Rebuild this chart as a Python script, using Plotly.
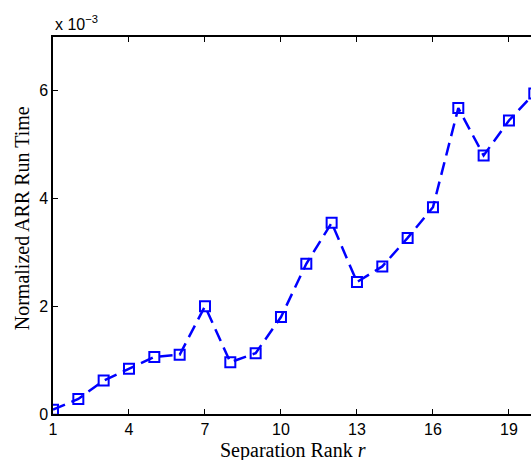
import plotly.graph_objects as go

ranks = list(range(1, 21))
run_time = [0.08e-3, 0.28e-3, 0.62e-3, 0.84e-3, 1.06e-3, 1.10e-3, 2.00e-3, 0.96e-3, 1.13e-3, 1.80e-3,
            2.79e-3, 3.55e-3, 2.45e-3, 2.74e-3, 3.27e-3, 3.84e-3, 5.68e-3, 4.80e-3, 5.45e-3, 5.95e-3]
x_ticks = [1, 4, 7, 10, 13, 16, 19]
y_ticks = [0, 2e-3, 4e-3, 6e-3]
y_tick_text = ["0", "2", "4", "6"]

blue = "#0000FF"
tickfont = dict(family="Liberation Sans, Arial, sans-serif", size=16, color="black")
titlefont = dict(family="Liberation Serif, Times New Roman, serif", size=20, color="black")

fig = go.Figure()
fig.add_trace(go.Scatter(
    x=ranks, y=run_time, mode="lines+markers",
    line=dict(color=blue, width=2.5, dash="13px,7px"),
    marker=dict(symbol="square-open", size=10, color=blue, line=dict(width=2, color=blue)),
    showlegend=False,
))

fig.update_layout(
    width=531, height=460,
    margin=dict(l=53, r=0, t=37, b=46),
    paper_bgcolor="white", plot_bgcolor="white",
    xaxis=dict(range=[1, 19.87], tickvals=x_ticks, ticks="inside", ticklen=5, tickwidth=1,
               tickcolor="black", showline=True, linecolor="black", linewidth=1.5,
               mirror="ticks", showgrid=False, zeroline=False, tickfont=tickfont, title=None),
    yaxis=dict(range=[0, 7e-3], tickvals=y_ticks, ticktext=y_tick_text, ticks="inside", ticklen=5,
               tickwidth=1, tickcolor="black", showline=True, linecolor="black", linewidth=1.5,
               showgrid=False, zeroline=False, tickfont=tickfont, title=None),
    yaxis2=dict(range=[0, 7e-3], tickvals=y_ticks, ticks="inside", ticklen=5, tickwidth=1,
                tickcolor="black", showline=False, showgrid=False, zeroline=False,
                showticklabels=False, overlaying="y", side="right", anchor="x"),
    annotations=[
        dict(text="Separation Rank <i>r</i>", xref="paper", yref="paper", x=(293 - 53) / 478,
             y=-0.061, xanchor="center", yanchor="top", showarrow=False, font=titlefont),
        dict(text="Normalized ARR Run Time", xref="paper", yref="paper", x=-0.065, y=0.519,
             textangle=-90, showarrow=False, font=titlefont, xanchor="center", yanchor="middle"),
        dict(text="x 10<sup>−3</sup>", xref="paper", yref="paper", x=0.0, y=1.0, yshift=2,
             xanchor="left", yanchor="bottom", showarrow=False, font=tickfont),
    ],
)

fig.write_html("out.html")
